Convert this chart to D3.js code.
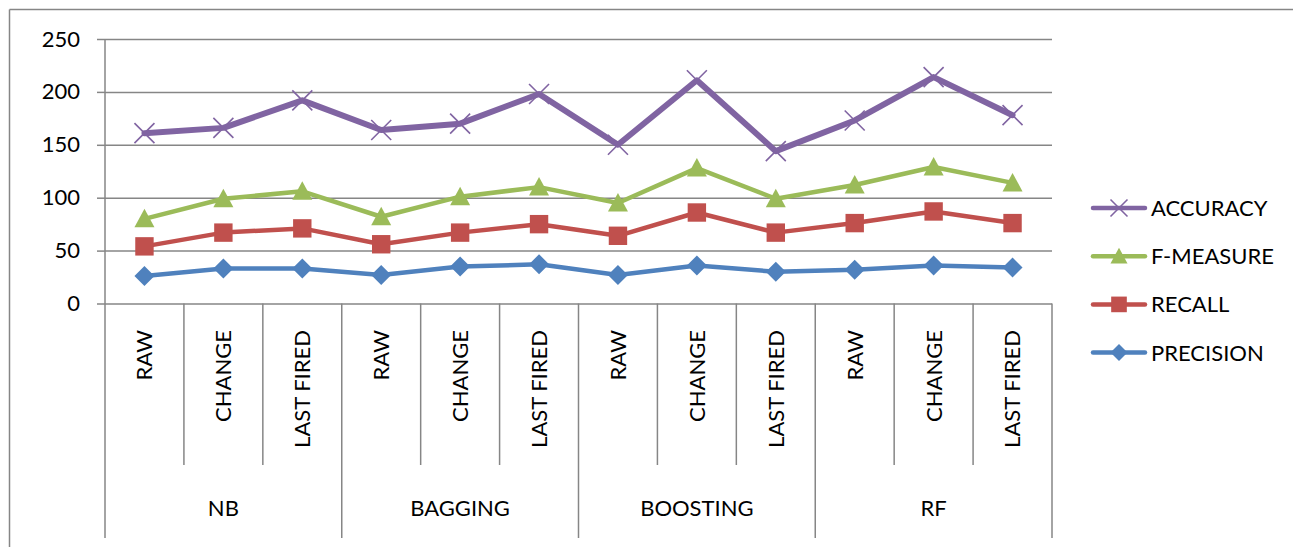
<!DOCTYPE html>
<html>
<head>
<meta charset="utf-8">
<script src="https://cdn.jsdelivr.net/npm/d3@7"></script>
<style>
  html, body { margin: 0; padding: 0; background: #fff; }
  svg { display: block; font-family: Lato, "Open Sans", sans-serif; }
</style>
</head>
<body>
<svg id="chart" width="1293" height="547"></svg>
<script>
// Classifier groups and the feature variants evaluated within each
const groups = ["NB", "BAGGING", "BOOSTING", "RF"];
const variants = ["RAW", "CHANGE", "LAST FIRED"];
const categories = groups.flatMap(g => variants.map(v => g + "|" + v));

// Plotted values for each metric, one per category
const precision = [26, 33, 33, 27, 35, 37, 27, 36, 30, 32, 36, 34];
const recall    = [54, 67, 71, 56, 67, 75, 64, 86, 67, 76, 87, 76];
const fMeasure  = [80, 99, 106, 82, 101, 110, 95, 128, 99, 112, 129, 114];
const accuracy  = [161, 166, 192, 164, 170, 198, 150, 211, 144, 173, 214, 178];

const yTicks = [0, 50, 100, 150, 200, 250];

const series = [
  { name: "PRECISION", values: precision, color: "#4F81BD", width: 4.5, marker: "diamond" },
  { name: "RECALL",    values: recall,    color: "#C0504D", width: 4.5, marker: "square" },
  { name: "F-MEASURE", values: fMeasure,  color: "#9BBB59", width: 4.5, marker: "triangle" },
  { name: "ACCURACY",  values: accuracy,  color: "#8064A2", width: 6,   marker: "cross" }
];

const svg = d3.select("#chart");
const gridColor = "#868686";
const fontSize = 22;

// Outer chart frame (top and left edges visible)
svg.append("line").attr("x1", 9.5).attr("x2", 1293).attr("y1", 9.5).attr("y2", 9.5)
  .attr("stroke", gridColor).attr("stroke-width", 1.5);
svg.append("line").attr("x1", 9.5).attr("x2", 9.5).attr("y1", 9.5).attr("y2", 547)
  .attr("stroke", gridColor).attr("stroke-width", 1.5);

const plot = { left: 105, right: 1052, top: 39, bottom: 303.5 };

const x = d3.scaleBand().domain(categories).range([plot.left, plot.right]).padding(0);
const y = d3.scaleLinear().domain([0, 250]).range([plot.bottom, plot.top]);

// Horizontal gridlines
const grid = svg.append("g").attr("transform", `translate(${plot.left},0)`)
  .call(d3.axisLeft(y).tickValues(yTicks).tickSize(-(plot.right - plot.left)).tickFormat(""));
grid.select(".domain").remove();
grid.selectAll("line").attr("stroke", gridColor).attr("stroke-width", 1.5);

// Y axis with outer ticks and labels
const yAxis = svg.append("g").attr("transform", `translate(${plot.left},0)`)
  .call(d3.axisLeft(y).tickValues(yTicks).tickSize(8).tickPadding(17).tickFormat(d3.format("d")));
yAxis.select(".domain").remove();
yAxis.selectAll("line").attr("stroke", gridColor).attr("stroke-width", 1.5);
yAxis.selectAll("text").attr("font-size", fontSize).attr("fill", "#000")
  .attr("font-family", "Lato, sans-serif");

// Vertical axis line running down through the category label area
svg.append("line").attr("x1", plot.left).attr("x2", plot.left)
  .attr("y1", plot.top).attr("y2", 538)
  .attr("stroke", gridColor).attr("stroke-width", 1.5);

// Category dividers: short between variants, long between groups
const step = x.step();
const dividers = d3.range(1, categories.length + 1);
svg.append("g").selectAll("line").data(dividers).join("line")
  .attr("x1", i => plot.left + i * step).attr("x2", i => plot.left + i * step)
  .attr("y1", plot.bottom).attr("y2", i => (i % variants.length === 0 ? 538 : 465))
  .attr("stroke", gridColor).attr("stroke-width", 1.5);

// Variant labels, rotated
svg.append("g").selectAll("text").data(categories).join("text")
  .attr("transform", d => `translate(${x(d) + x.bandwidth() / 2},330) rotate(-90)`)
  .attr("text-anchor", "end").attr("dy", "0.36em")
  .attr("font-size", fontSize).attr("fill", "#000")
  .text(d => d.split("|")[1]);

// Group labels
svg.append("g").selectAll("text").data(groups).join("text")
  .attr("x", (g, i) => plot.left + (i + 0.5) * step * variants.length)
  .attr("y", 508).attr("dy", "0.36em")
  .attr("text-anchor", "middle").attr("font-size", fontSize).attr("fill", "#000")
  .text(g => g);

// Marker shapes
function drawMarker(sel, type, color, size) {
  const h = size / 2;
  if (type === "diamond") {
    sel.append("path").attr("d", `M0,${-h}L${h},0L0,${h}L${-h},0Z`).attr("fill", color);
  } else if (type === "square") {
    const s = size * 0.92;
    sel.append("rect").attr("x", -s / 2).attr("y", -s / 2).attr("width", s).attr("height", s)
      .attr("fill", color);
  } else if (type === "triangle") {
    sel.append("path").attr("d", `M0,${-h}L${h},${h * 0.85}L${-h},${h * 0.85}Z`).attr("fill", color);
  } else if (type === "cross") {
    sel.append("path").attr("d", `M${-h},${-h}L${h},${h}M${h},${-h}L${-h},${h}`)
      .attr("stroke", color).attr("stroke-width", 1.6).attr("fill", "none");
  }
}

const line = d3.line()
  .x((d, i) => x(categories[i]) + x.bandwidth() / 2)
  .y(d => y(d));

series.forEach(s => {
  const g = svg.append("g");
  g.append("path").datum(s.values).attr("d", line)
    .attr("fill", "none").attr("stroke", s.color).attr("stroke-width", s.width)
    .attr("stroke-linejoin", "round").attr("stroke-linecap", "round");
  s.values.forEach((v, i) => {
    const m = g.append("g")
      .attr("transform", `translate(${x(categories[i]) + x.bandwidth() / 2},${y(v)})`);
    drawMarker(m, s.marker, s.color, 20);
  });
});

// Legend
const legendRows = series.slice().reverse();
const legend = svg.append("g");
legendRows.forEach((s, i) => {
  const cy = 208 + i * 48.2;
  const row = legend.append("g").attr("transform", `translate(0,${cy})`);
  row.append("line").attr("x1", 1093).attr("x2", 1145).attr("y1", 0).attr("y2", 0)
    .attr("stroke", s.color).attr("stroke-width", 4.5).attr("stroke-linecap", "round");
  const m = row.append("g").attr("transform", "translate(1119,0)");
  drawMarker(m, s.marker, s.color, 17);
  row.append("text").attr("x", 1151).attr("y", 0).attr("dy", "0.36em")
    .attr("font-size", fontSize).attr("fill", "#000").text(s.name);
});
</script>
</body>
</html>
